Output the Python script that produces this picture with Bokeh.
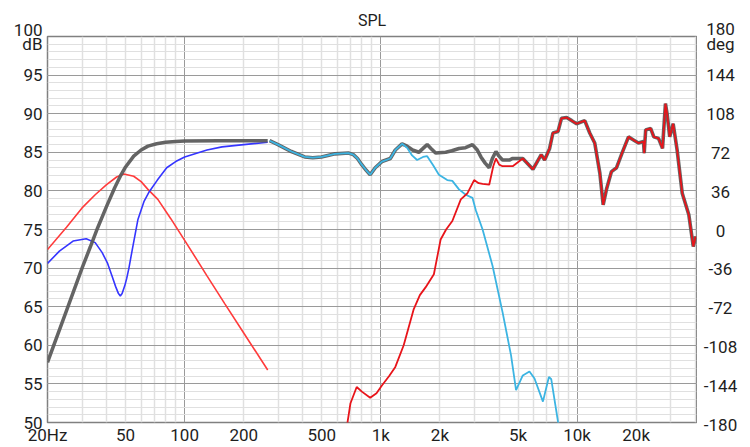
from bokeh.plotting import figure
from bokeh.layouts import row
from bokeh.models import FixedTicker, Range1d
from bokeh.core.properties import value
from bokeh.embed import file_html
from bokeh.resources import INLINE

# ---------------- data ----------------
# simulated part (left, 20 Hz .. ~265 Hz)
sum_sim_freq = [20, 25, 30, 33, 36, 40, 44, 47, 50, 55, 60, 65, 72, 80, 90, 100, 150, 200, 265]
sum_sim_db = [57.8, 64.5, 70.0, 72.7, 75.2, 78.0, 80.4, 81.9, 83.1, 84.5, 85.3, 85.8, 86.1, 86.3,
              86.4, 86.45, 86.5, 86.5, 86.5]

red_sim_freq = [20, 25, 30, 35, 40, 45, 49, 55, 60, 65, 73, 85, 100, 130, 160, 200, 265]
red_sim_db = [72.4, 75.3, 77.8, 79.5, 80.8, 81.8, 82.2, 81.9, 81.2, 80.2, 78.9, 76.4, 73.6, 69.0,
              65.4, 61.6, 56.8]

blue_sim_freq = [20, 23, 27, 31.5, 35, 38, 40.5, 42.6, 44.5, 46, 47, 48, 49.5, 50.6, 52, 54, 57.8,
                 62, 66, 72.6, 81, 90, 100, 130, 155, 200, 265]
blue_sim_db = [70.6, 72.2, 73.5, 73.8, 73.3, 72.0, 70.6, 69.0, 67.6, 66.7, 66.4, 66.7, 67.7, 68.6,
               70.0, 72.3, 76.3, 78.6, 79.9, 81.4, 83.0, 83.8, 84.4, 85.3, 85.7, 86.0, 86.3]

# measured part (right, ~270 Hz .. 40 kHz)
sum_meas_freq = [271, 299, 350, 409, 450, 498, 584, 683, 724, 760, 799, 840, 882, 936, 1012, 1117,
                 1185, 1282, 1360, 1450, 1561, 1640, 1722, 1800, 1901, 2139, 2300, 2501, 2700, 2929,
                 3100, 3235, 3400, 3566, 3700, 3858, 4000, 4169, 4515, 4697, 5287, 5956, 6566, 6832,
                 7244, 7529, 7992, 8328, 8848, 9396, 9941, 10940, 11600, 12300, 13060, 13580, 14120,
                 14970, 15890, 17000, 18280, 19380, 20540, 21800, 21980, 22360, 23700, 24600, 26000,
                 27250, 28200, 28750, 29650, 30870, 32340, 34340, 37100, 39100, 40200]
sum_meas_db = [86.5, 86.0, 85.1, 84.4, 84.3, 84.4, 84.8, 84.9, 84.7, 84.2, 83.4, 82.7, 82.1, 83.0,
               83.8, 84.2, 85.3, 86.1, 85.8, 85.3, 85.0, 85.5, 86.0, 85.5, 84.9, 85.0, 85.2, 85.5,
               85.6, 86.0, 85.3, 84.4, 83.6, 83.0, 84.2, 85.1, 84.5, 84.0, 84.0, 84.2, 84.2, 82.8,
               84.7, 84.0, 85.5, 87.5, 87.7, 89.4, 89.5, 89.1, 88.7, 89.1, 87.5, 86.2, 82.3, 78.2,
               80.2, 82.5, 83.0, 85.0, 87.0, 86.6, 86.2, 86.4, 84.9, 87.9, 88.1, 87.0, 86.8, 85.5,
               91.3, 90.0, 87.0, 88.7, 85.3, 79.7, 76.9, 72.8, 74.1]

woofer_freq = [271, 299, 350, 409, 450, 498, 584, 683, 724, 760, 799, 840, 882, 936, 1012, 1117,
               1185, 1282, 1360, 1442, 1530, 1640, 1722, 1850, 1976, 2179, 2313, 2501, 2708, 2929,
               3047, 3299, 3707, 4169, 4607, 4886, 5287, 5718, 6067, 6697, 7183, 7387, 7992, 8200]
woofer_db = [86.5, 86.0, 85.1, 84.4, 84.3, 84.4, 84.8, 84.9, 84.7, 84.2, 83.4, 82.7, 82.1, 83.0,
             83.8, 84.2, 85.3, 86.1, 85.6, 84.6, 84.0, 84.4, 84.5, 83.3, 82.1, 81.4, 81.3, 80.2,
             79.5, 79.1, 77.5, 75.0, 70.3, 64.3, 58.7, 54.2, 56.1, 56.6, 55.7, 52.7, 55.9, 55.6,
             50.1, 48.5]

tweeter_freq = [650, 677, 700, 753, 800, 882, 950, 1012, 1100, 1185, 1307, 1471, 1580, 1689, 1863,
                2016, 2150, 2313, 2555, 2763, 2987, 3150, 3299, 3566, 3739, 3858, 4007, 4169, 4515,
                4697, 5287, 5956, 6566, 6832, 7244, 7529, 7992, 8328, 8848, 9396, 9941, 10940,
                11600, 12300, 13060, 13580, 14120, 14970, 15890, 17000, 18280, 19380, 20540, 21800,
                21980, 22360, 23700, 24600, 26000, 27250, 28200, 28750, 29650, 30870, 32340, 34340,
                37100, 39100, 40200]
tweeter_db = [46.5, 50.1, 52.5, 54.6, 54.0, 53.2, 53.8, 54.8, 56.0, 57.2, 60.0, 64.7, 66.5, 67.5,
              69.2, 73.7, 75.0, 76.1, 78.9, 79.7, 81.4, 81.0, 80.9, 80.8, 83.2, 84.2, 83.4, 83.2,
              83.2, 83.2, 84.2, 82.8, 84.7, 84.0, 85.5, 87.5, 87.7, 89.4, 89.5, 89.1, 88.7, 89.1,
              87.5, 86.2, 82.3, 78.2, 80.2, 82.5, 83.0, 85.0, 87.0, 86.6, 86.2, 86.4, 84.9, 87.9,
              88.1, 87.0, 86.8, 85.5, 91.3, 90.0, 87.0, 88.7, 85.3, 79.7, 76.9, 72.8, 74.1]

# axes / ticks
x_tick_vals = [20, 50, 100, 200, 500, 1000, 2000, 5000, 10000, 20000]
x_tick_labels = ["20Hz", "50", "100", "200", "500", "1k", "2k", "5k", "10k", "20k"]
db_ticks = [50, 55, 60, 65, 70, 75, 80, 85, 90, 95, 100]
db_labels = ["50", "55", "60", "65", "70", "75", "80", "85", "90", "95", "100\ndB"]
deg_ticks = [-180, -144, -108, -72, -36, 0, 36, 72, 108, 144, 180]
deg_labels = ["-180", "-144", "-108", "-72", "-36", "0", "36", "72", "108", "144", "180\ndeg"]
x_major_grid = [100, 1000, 10000]
x_minor_grid = [20, 30, 40, 50, 60, 70, 80, 90, 200, 300, 400, 500, 600, 700, 800, 900,
                2000, 3000, 4000, 5000, 6000, 7000, 8000, 9000, 20000, 30000, 40000]

FONT = "Roboto"
TXT = "#1e1e1e"

# layout (pixels)
W, H = 750, 447
LEFT, RIGHT, TOP, BOTTOM = 47, 696, 36, 424     # frame edges in the window
MAIN_W = RIGHT + 1

p = figure(width=MAIN_W, height=H, x_axis_type="log", x_range=(20, 40600), y_range=(50, 100),
           output_backend="svg", toolbar_location=None,
           min_border_left=LEFT, min_border_right=MAIN_W - RIGHT, min_border_top=TOP,
           min_border_bottom=H - BOTTOM)
p.frame_align = False

p.title.text = "SPL"
p.title.align = "center"
p.title.text_font = FONT
p.title.text_font_size = "16px"
p.title.text_font_style = "normal"
p.title.text_color = TXT
p.title.standoff = 14

p.outline_line_color = "#808080"
p.outline_line_width = 1.5
p.background_fill_color = "white"
p.border_fill_color = "white"

# grids
p.xgrid.ticker = FixedTicker(ticks=x_major_grid, minor_ticks=x_minor_grid)
p.xgrid.grid_line_color = "#9a9a9a"
p.xgrid.minor_grid_line_color = "#e0e0e0"
p.xgrid.minor_grid_line_width = 1.5
p.ygrid.ticker = FixedTicker(ticks=db_ticks, minor_ticks=list(range(50, 101)))
p.ygrid.grid_line_color = "#9a9a9a"
p.ygrid.grid_line_width = 1.2
p.ygrid.minor_grid_line_color = "#e0e0e0"
p.ygrid.minor_grid_line_width = 1.2

# axes
for ax in (p.xaxis, p.yaxis):
    ax.axis_line_color = None
    ax.major_tick_line_color = None
    ax.minor_tick_line_color = None
    ax.major_tick_out = 0
    ax.major_tick_in = 0
    ax.minor_tick_out = 0
    ax.major_label_text_font = FONT
    ax.major_label_text_font_size = "17px"
    ax.major_label_text_color = TXT

p.xaxis.ticker = FixedTicker(ticks=x_tick_vals)
p.xaxis.major_label_overrides = dict(zip(x_tick_vals, x_tick_labels))
p.xaxis.major_label_standoff = 2
p.yaxis.ticker = FixedTicker(ticks=db_ticks)
p.yaxis.major_label_overrides = dict(zip(db_ticks, db_labels))
p.yaxis.major_label_standoff = 5
p.yaxis.major_label_text_line_height = 0.7

# curves - simulated part
p.line(red_sim_freq, red_sim_db, line_color="#ff3b3b", line_width=1.6)
p.line(blue_sim_freq, blue_sim_db, line_color="#3535ff", line_width=1.6)
p.line(sum_sim_freq, sum_sim_db, line_color="#5c5c5c", line_width=3.5, line_alpha=0.95)
# measured part
p.line(sum_meas_freq, sum_meas_db, line_color="#5c5c5c", line_width=3.6, line_alpha=0.95)
p.line(woofer_freq, woofer_db, line_color="#3cb4e2", line_width=1.8)
p.line(tweeter_freq, tweeter_db, line_color="#e8141a", line_width=1.8)

# right-hand phase scale (deg), labels centred in a narrow strip whose
# vertical scale lines up with the main frame: -180 at BOTTOM, +180 at TOP
px_per_deg = (BOTTOM - TOP) / 360.0
deg_top = 180 + TOP / px_per_deg
deg_bot = -180 - (H - BOTTOM) / px_per_deg
q = figure(width=W - MAIN_W, height=H, x_range=Range1d(MAIN_W, W), y_range=Range1d(deg_bot, deg_top),
           output_backend="svg", toolbar_location=None, min_border=0,
           min_border_left=0, min_border_right=0, min_border_top=0, min_border_bottom=0)
q.frame_align = False
q.axis.visible = False
q.grid.visible = False
q.outline_line_color = None
q.background_fill_color = "white"
q.border_fill_color = "white"
q.text(x=[720] * len(deg_ticks), y=deg_ticks, text=deg_labels, text_align="center",
       text_baseline="middle", text_font=value(FONT), text_font_size="17px",
       text_color=TXT, text_line_height=0.75)

layout = row(p, q, spacing=0)
open("out.html", "w").write(file_html(layout, INLINE))
